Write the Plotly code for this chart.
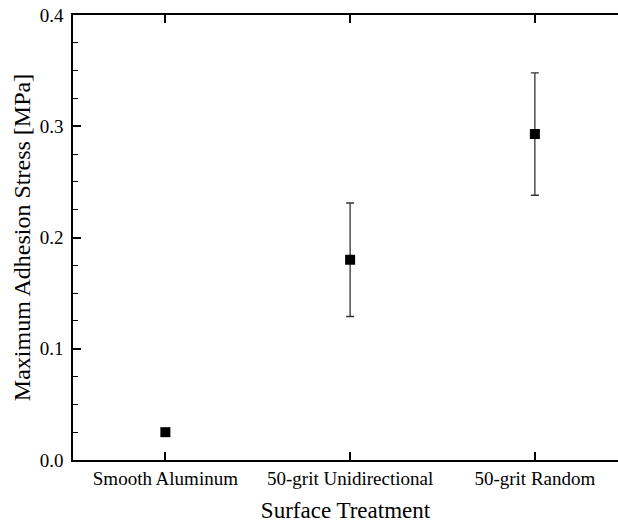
import plotly.graph_objects as go

# Surface treatments and measured maximum adhesion stress (MPa)
treatments = ["Smooth Aluminum", "50-grit Unidirectional", "50-grit Random"]
stress_mean = [0.025, 0.180, 0.293]
stress_err = [0.0, 0.051, 0.055]

serif = "Liberation Serif, Times New Roman, serif"

fig = go.Figure(
    go.Scatter(
        x=treatments,
        y=stress_mean,
        mode="markers",
        marker=dict(symbol="square", size=10, color="black"),
        error_y=dict(type="data", array=stress_err, visible=True,
                     color="#333333", thickness=1.3, width=4),
        showlegend=False,
    )
)

fig.update_layout(
    width=618, height=525,
    margin=dict(l=73, r=0, t=15, b=65),
    paper_bgcolor="white", plot_bgcolor="white",
    font=dict(family=serif, size=19, color="black"),
)

fig.update_xaxes(
    type="category",
    range=[-0.5, 2.45],
    showline=True, linecolor="black", linewidth=1.6, mirror="ticks",
    ticks="inside", ticklen=8, tickwidth=1.6, tickcolor="black",
    showgrid=False, zeroline=False,
    tickfont=dict(size=19),
    title=dict(text="Surface Treatment", font=dict(size=23), standoff=14),
)

fig.update_yaxes(
    range=[0, 0.4], dtick=0.1, tickformat=".1f",
    showline=True, linecolor="black", linewidth=1.6,
    ticks="inside", ticklen=8, tickwidth=1.6, tickcolor="black",
    minor=dict(ticks="inside", ticklen=5, tickwidth=1.3, tickcolor="black", dtick=0.025),
    showgrid=False, zeroline=False,
    tickfont=dict(size=19), ticklabelstandoff=4,
    title=dict(text="Maximum Adhesion Stress [MPa]", font=dict(size=24), standoff=2),
)

fig.write_html("out.html")
